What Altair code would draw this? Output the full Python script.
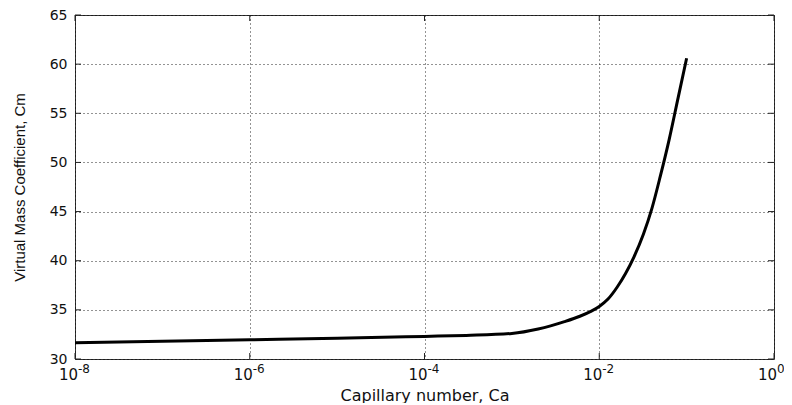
import altair as alt
import pandas as pd

# Curve data
ca_values = [1e-8, 1e-7, 1e-6, 1e-5, 1e-4, 3e-4, 1e-3, 2e-3, 4e-3, 6e-3, 8e-3,
             1e-2, 1.26e-2, 1.6e-2, 2e-2, 2.5e-2, 3.2e-2, 4e-2, 5e-2, 6.3e-2, 8e-2, 1e-1]
cm_values = [31.65, 31.8, 31.95, 32.1, 32.3, 32.4, 32.6, 33.05, 33.8, 34.35, 34.85,
             35.35, 36.1, 37.3, 38.7, 40.4, 42.7, 45.3, 48.6, 52.3, 56.6, 60.6]

x_ticks = [1e-8, 1e-6, 1e-4, 1e-2, 1e0]
x_exps = ["-8", "-6", "-4", "-2", "0"]
y_ticks = [30, 35, 40, 45, 50, 55, 60, 65]

W, H = 699, 344
FONT = "DejaVu Sans"
TXT = "#111111"

curve = pd.DataFrame({"Ca": ca_values, "Cm": cm_values})
xt = pd.DataFrame({"Ca": x_ticks, "exp": x_exps, "base": ["10"] * len(x_ticks)})
yt = pd.DataFrame({"Cm": y_ticks})

xscale = alt.Scale(type="log", domain=[1e-8, 1], nice=False)
yscale = alt.Scale(domain=[30, 65], nice=False, zero=False)

x_axis = alt.Axis(values=x_ticks, labels=False, ticks=False, domain=False,
                  grid=True, gridDash=[1, 3], gridColor="#000", gridOpacity=0.85,
                  title="Capillary number, Ca", titleFont=FONT, titleFontSize=16,
                  titleFontWeight="normal", titleColor=TXT, titlePadding=28)
y_axis = alt.Axis(values=y_ticks, ticks=False, domain=False, labelPadding=8,
                  labelFont=FONT, labelFontSize=14, labelColor=TXT,
                  grid=True, gridDash=[1, 3], gridColor="#000", gridOpacity=0.85,
                  title="Virtual Mass Coefficient, Cm", titleFont="Liberation Sans",
                  titleFontSize=15, titleFontWeight="normal", titleColor=TXT,
                  titlePadding=22)

X = alt.X("Ca:Q", scale=xscale, axis=x_axis, title="Capillary number, Ca")
Y = alt.Y("Cm:Q", scale=yscale, axis=y_axis, title="Virtual Mass Coefficient, Cm")

line = alt.Chart(curve).mark_line(color="black", strokeWidth=3, interpolate="monotone").encode(
    x=X, y=Y)

tick_color = "#222"
bottom_ticks = alt.Chart(xt).mark_rule(color=tick_color, strokeWidth=1).encode(
    x=X, y=alt.value(H), y2=alt.value(H - 6))
top_ticks = alt.Chart(xt).mark_rule(color=tick_color, strokeWidth=1).encode(
    x=X, y=alt.value(0), y2=alt.value(6))
left_ticks = alt.Chart(yt).mark_rule(color=tick_color, strokeWidth=1).encode(
    y=Y, x=alt.value(0), x2=alt.value(6))
right_ticks = alt.Chart(yt).mark_rule(color=tick_color, strokeWidth=1).encode(
    y=Y, x=alt.value(W - 6), x2=alt.value(W))

base_lbl = alt.Chart(xt).mark_text(align="right", baseline="alphabetic", dx=3,
                                   font=FONT, fontSize=15, color=TXT).encode(
    x=X, y=alt.value(H + 21), text="base:N")
exp_lbl = alt.Chart(xt).mark_text(align="left", baseline="alphabetic", dx=3,
                                  font=FONT, fontSize=12, color=TXT).encode(
    x=X, y=alt.value(H + 14), text="exp:N")

chart = alt.layer(line, bottom_ticks, top_ticks, left_ticks, right_ticks, base_lbl, exp_lbl).properties(
    width=W, height=H,
    autosize=alt.AutoSizeParams(type="none"),
    padding={"left": 67, "top": 7, "right": 10, "bottom": 44},
    background="white",
).configure_view(stroke="#333", strokeWidth=1)

chart.save("out.html", embed_options={"renderer": "svg", "actions": False})
